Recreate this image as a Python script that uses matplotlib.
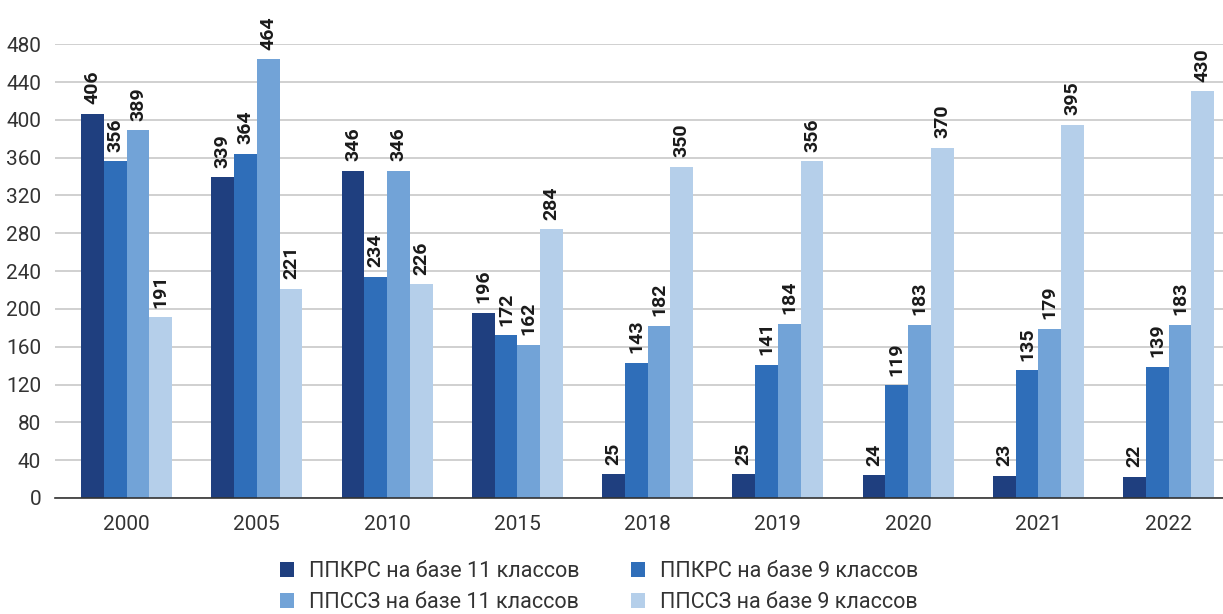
import matplotlib
matplotlib.use('Agg')
import matplotlib.pyplot as plt
from matplotlib.patches import Patch
import numpy as np

plt.rcParams['font.family'] = ['Roboto', 'DejaVu Sans']

years = ['2000', '2005', '2010', '2015', '2018', '2019', '2020', '2021', '2022']
ppkrs_11 = [406, 339, 346, 196, 25, 25, 24, 23, 22]
ppkrs_9 = [356, 364, 234, 172, 143, 141, 119, 135, 139]
ppssz_11 = [389, 464, 346, 162, 182, 184, 183, 179, 183]
ppssz_9 = [191, 221, 226, 284, 350, 356, 370, 395, 430]
series_names = ['ППКРС на базе 11 классов', 'ППКРС на базе 9 классов',
                'ППССЗ на базе 11 классов', 'ППССЗ на базе 9 классов']
colors = ['#1f3f7f', '#2f6eb9', '#72a3d7', '#b5cfea']

fig = plt.figure(figsize=(12.23, 6.14), dpi=100)
ax = fig.add_axes([0.045, 0.189, 0.955, 0.739])

x = np.arange(len(years))
w = 0.1747
all_series = [ppkrs_11, ppkrs_9, ppssz_11, ppssz_9]
for i, (vals, col) in enumerate(zip(all_series, colors)):
    pos = x + (i - 1.5) * w
    ax.bar(pos, vals, width=w, color=col, zorder=3)
    for px, v in zip(pos, vals):
        ax.annotate(str(v), (px, v), xytext=(0, 7), textcoords='offset points',
                    rotation=90, ha='center', va='bottom', fontsize=14,
                    fontweight='bold', color='#1a1a1a', annotation_clip=False)

ax.set_xlim(-0.549, 8.418)
ax.set_ylim(0, 480)
ax.set_yticks(range(0, 481, 40))
ax.set_xticks(x)
ax.set_xticklabels(years)
ax.tick_params(axis='both', length=0, labelsize=15, colors='#333333')
ax.tick_params(axis='y', pad=10)
ax.tick_params(axis='x', pad=12)
ax.yaxis.grid(True, color='#c8c8c8', linewidth=1.2, zorder=0)
for s in ['top', 'right', 'left']:
    ax.spines[s].set_visible(False)
ax.spines['bottom'].set_color('#333333')
ax.spines['bottom'].set_linewidth(1.2)
ax.spines['bottom'].set_zorder(4)

# legend fills column-wise, so reorder to get rows like the original
order = [0, 2, 1, 3]
handles = [Patch(facecolor=colors[k]) for k in order]
labels = [series_names[k] for k in order]
fig.legend(handles, labels, loc='upper left', bbox_to_anchor=(0.222, 0.1),
           ncol=2, frameon=False, fontsize=15.5, handlelength=0.65, handleheight=0.65,
           handletextpad=0.7, columnspacing=2.4, labelspacing=0.45, labelcolor='#333333',
           borderaxespad=0)

fig.savefig('out.png', dpi=100)
